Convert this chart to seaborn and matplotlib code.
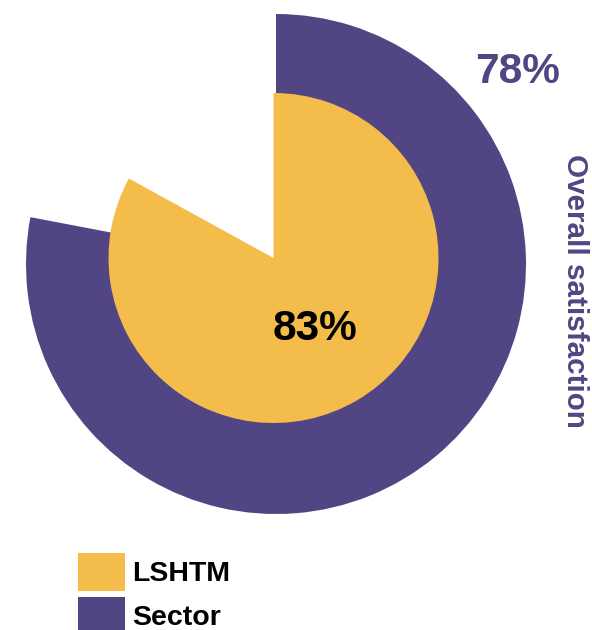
import matplotlib
matplotlib.use("Agg")
import matplotlib.pyplot as plt
from matplotlib.patches import Rectangle
import seaborn as sns

# Data
groups = ["LSHTM", "Sector"]
satisfaction = [83, 78]
colours = ["#F4BD4B", "#524583"]
metric = "Overall satisfaction"

sns.set_theme(style="white")
plt.rcParams["font.family"] = ["Liberation Sans", "DejaVu Sans"]

W, H = 592, 630
fig = plt.figure(figsize=(W / 100, H / 100), dpi=100)
ax = fig.add_axes([0, 0, 1, 1])
ax.set_aspect("equal")
ax.axis("off")

# outer pie (Sector) behind, inner pie (LSHTM) on top
ax.pie([satisfaction[1] / 100], normalize=False, startangle=90, counterclock=False,
       radius=250, center=(276, 366), colors=[colours[1]],
       wedgeprops={"linewidth": 0})
ax.pie([satisfaction[0] / 100], normalize=False, startangle=90, counterclock=False,
       radius=165, center=(273.5, 372), colors=[colours[0]],
       wedgeprops={"linewidth": 0})
ax.set_xlim(0, W)
ax.set_ylim(0, H)

ax.text(518, H - 72, f"{satisfaction[1]}%", color=colours[1], fontsize=30.5,
        fontweight="bold", ha="center", va="center")
ax.text(315, H - 329, f"{satisfaction[0]}%", color="black", fontsize=30.5,
        fontweight="bold", ha="center", va="center")
ax.text(575, H - 291, metric, color=colours[1], fontsize=21.3, fontweight="bold",
        rotation=270, ha="center", va="center")

# legend
for i, (g, c) in enumerate(zip(groups, colours)):
    y0 = 553 + i * 44
    fig.patches.append(Rectangle((78 / W, 1 - (y0 + 38) / H), 47 / W, 38 / H,
                                 transform=fig.transFigure, color=c, linewidth=0))
    fig.text(132 / W, 1 - (y0 + 21) / H, g, fontsize=20.5, fontweight="bold",
             color="black", ha="left", va="center")

fig.savefig("out.png", dpi=100)
